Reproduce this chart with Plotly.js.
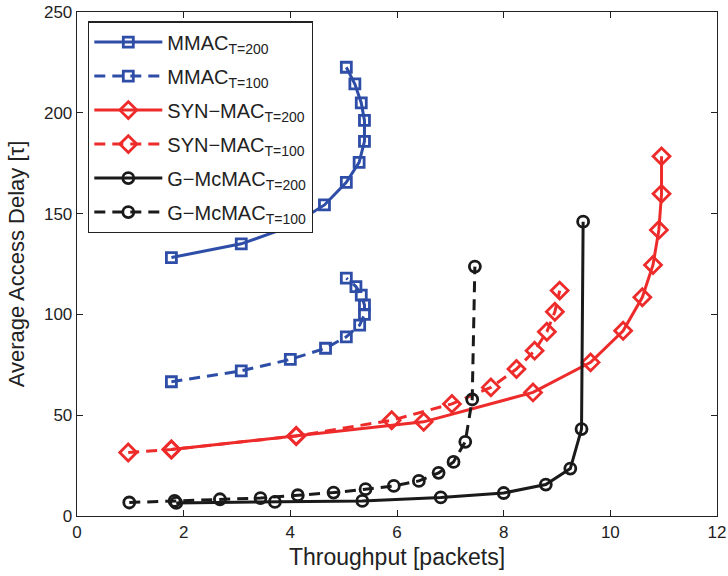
<!DOCTYPE html>
<html>
<head>
<meta charset="utf-8">
<script src="https://cdn.plot.ly/plotly-3.0.1.min.js"></script>
<style>html,body{margin:0;padding:0;background:#fff;}#chart{width:728px;height:576px;}</style>
</head>
<body>
<div id="chart"></div>
<script>
// Data
const mmac200X = [1.77, 3.08, 4.0, 4.64, 5.05, 5.29, 5.39, 5.39, 5.33, 5.21, 5.05];
const mmac200Y = [128.2, 135, 143.6, 154.3, 165.5, 175.4, 185.8, 196.2, 204.9, 214.3, 222.6];
const mmac100X = [1.77, 3.08, 4.0, 4.66, 5.05, 5.30, 5.39, 5.39, 5.33, 5.23, 5.05];
const mmac100Y = [66.6, 72, 77.7, 83.2, 88.9, 94.7, 100, 104.7, 109.6, 113.8, 118];
const syn200X = [1.77, 4.11, 6.5, 8.55, 9.63, 10.24, 10.6, 10.8, 10.91, 10.96, 10.96];
const syn200Y = [33, 39.7, 46.7, 61.3, 76.2, 91.9, 108.5, 124.5, 141.9, 159.8, 178.4];
const syn100X = [0.96, 1.77, 4.11, 5.9, 7.03, 7.76, 8.24, 8.58, 8.81, 8.96, 9.05];
const syn100Y = [31.5, 33, 39.7, 47.5, 55.6, 63.8, 72.9, 82, 91.4, 101.3, 111.8];
const gmc200X = [1.86, 3.71, 5.35, 6.82, 8.0, 8.79, 9.25, 9.46, 9.49];
const gmc200Y = [6.5, 7, 7.5, 9.2, 11.4, 15.6, 23.5, 43.1, 146];
const gmc100X = [0.98, 1.83, 2.68, 3.44, 4.14, 4.81, 5.41, 5.94, 6.41, 6.78, 7.06, 7.28, 7.41, 7.46];
const gmc100Y = [6.7, 7.5, 8.3, 8.9, 10.3, 11.6, 13.3, 14.9, 17.4, 21.4, 26.8, 36.8, 57.8, 123.7];

const names = ['MMAC<sub>T=200</sub>', 'MMAC<sub>T=100</sub>', 'SYN\u2212MAC<sub>T=200</sub>', 'SYN\u2212MAC<sub>T=100</sub>', 'G\u2212McMAC<sub>T=200</sub>', 'G\u2212McMAC<sub>T=100</sub>'];
const xTicks = [0, 2, 4, 6, 8, 10, 12];
const yTicks = [0, 50, 100, 150, 200, 250];

const BLUE = '#2e4da7', RED = '#ee2b2b', BLACK = '#1a1a1a';
const DASH = '11px,7px';

function tr(x, y, name, color, dash, symbol, size, group) {
  return {
    x: x, y: y, name: name, type: 'scatter', mode: 'lines+markers',
    legendgroup: group,
    line: {color: color, width: 3, dash: dash},
    marker: {symbol: symbol, size: size, color: color, line: {color: color, width: 2.8}},
    cliponaxis: false
  };
}

const data = [
  tr(mmac200X, mmac200Y, names[0], BLUE, 'solid', 'square-open', 10, 'a'),
  tr(mmac100X, mmac100Y, names[1], BLUE, DASH, 'square-open', 10, 'b'),
  tr(syn200X, syn200Y, names[2], RED, 'solid', 'diamond-open', 13, 'c'),
  tr(syn100X, syn100Y, names[3], RED, DASH, 'diamond-open', 13, 'd'),
  tr(gmc200X, gmc200Y, names[4], BLACK, 'solid', 'circle-open', 11, 'e'),
  tr(gmc100X, gmc100Y, names[5], BLACK, DASH, 'circle-open', 11, 'f')
];

const font = {family: '"Liberation Sans", Arial, Helvetica, sans-serif', color: '#222'};

const layout = {
  width: 728, height: 576,
  margin: {l: 77, r: 11, t: 12, b: 60},
  paper_bgcolor: '#fff', plot_bgcolor: '#fff',
  font: Object.assign({size: 17}, font),
  showlegend: true,
  legend: {
    x: 0.0172, y: 0.9815, xanchor: 'left', yanchor: 'top',
    bgcolor: '#fff', bordercolor: '#222', borderwidth: 1.3,
    font: Object.assign({size: 20}, font),
    tracegroupgap: 5, itemwidth: 68,
    traceorder: 'grouped'
  },
  xaxis: {
    range: [0, 12], tickvals: xTicks, ticktext: xTicks.map(String),
    ticks: 'inside', ticklen: 6, tickwidth: 1, tickcolor: '#222',
    showline: true, linecolor: '#222', linewidth: 1.3, mirror: 'ticks',
    showgrid: false, zeroline: false,
    tickfont: Object.assign({size: 17}, font),
    title: {text: 'Throughput [packets]', font: Object.assign({size: 23}, font), standoff: 8}
  },
  yaxis: {
    range: [0, 250], tickvals: yTicks, ticktext: yTicks.map(String),
    ticks: 'inside', ticklen: 6, tickwidth: 1, tickcolor: '#222',
    showline: true, linecolor: '#222', linewidth: 1.3, mirror: 'ticks',
    showgrid: false, zeroline: false,
    tickfont: Object.assign({size: 17}, font),
    title: {text: 'Average Access Delay [\u03c4]', font: Object.assign({size: 22}, font), standoff: 13}
  }
};

Plotly.newPlot('chart', data, layout, {displayModeBar: false, staticPlot: true});
</script>
</body>
</html>
